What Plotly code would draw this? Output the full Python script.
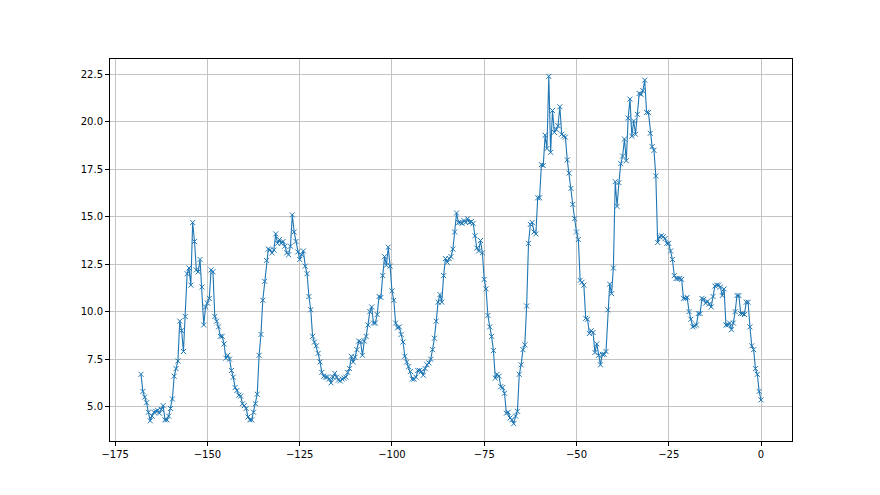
import numpy as np
import plotly.graph_objects as go

# Palette (matplotlib defaults)
BLUE = "#1f77b4"
GRID = "#c4c4c4"

# Valeurs lues sur le graphique, pas de 0.5 h, de -168 à 0
vals_168_147 = [
    6.7, 5.8, 5.5, 5.2, 4.7, 4.25, 4.5, 4.7, 4.75, 4.8,
    4.65, 4.85, 5.05, 4.3, 4.3, 4.5, 4.9, 5.4, 6.6, 7.0,
    7.4, 9.5, 9.0, 7.9, 9.75, 12.0, 12.3, 11.4, 14.7, 13.7,
    12.2, 12.1, 12.75, 11.3, 9.3, 10.25, 10.45, 10.7, 12.2, 12.1,
    9.75, 9.5, 9.2,
]
vals_146_125 = [
    8.7, 8.7, 8.3, 7.55, 7.7, 7.5, 6.9, 6.55, 6.0, 5.85, 5.6, 5.55, 5.15,
    5.05, 4.9, 4.45, 4.3, 4.3, 4.7, 5.15, 5.65, 7.7, 8.8,
    10.6, 11.6, 12.7, 13.3, 13.25, 13.1, 13.25, 14.1, 13.6, 13.8,
    13.6, 13.7, 13.45, 13.1, 13.0, 13.45, 15.1,
    14.2, 13.7, 13.15,
]
vals_125_101 = [
    12.75, 13.0, 13.2, 12.4, 12.0, 10.8, 10.1, 8.7, 8.4, 8.2,
    7.8, 7.35, 6.8, 6.6, 6.55, 6.55, 6.45, 6.25, 6.55, 6.75,
    6.55, 6.4, 6.35, 6.45, 6.5, 6.55, 6.8, 7.0, 7.65, 7.35,
    7.6, 8.0, 8.45, 8.4, 7.7, 8.45, 8.7, 9.3, 10.0, 10.25,
    9.4, 9.4, 9.85, 10.8, 10.75, 11.9, 12.9, 12.45, 13.4,
]
vals_100_78 = [
    12.4, 11.1, 10.6, 9.4, 9.15, 9.2, 8.8, 8.4, 7.65, 7.35,
    7.1, 6.85, 6.45, 6.45, 6.55, 6.9, 6.9, 6.85, 6.65, 7.0,
    7.2, 7.3, 7.5, 8.0, 8.6, 9.5, 10.5, 10.9, 10.5, 11.9,
    12.8, 12.6, 12.8, 12.9, 13.3, 14.2, 15.2, 14.7, 14.7, 14.65,
    14.8, 14.7, 14.9, 14.7, 14.75, 14.65,
]
vals_77_54 = [
    14.0, 13.35, 13.2, 13.75, 13.1, 11.7, 11.2, 9.8, 9.2, 8.7,
    7.95, 6.5, 6.7, 6.6, 6.05, 6.0,
    5.7, 4.65, 4.7, 4.4, 4.3, 4.1, 4.5, 4.75, 6.7, 7.2,
    8.0, 8.25, 10.3, 13.6, 14.6, 14.7, 14.2, 14.1, 16.0, 16.0,
    17.75, 17.7, 19.3, 18.6, 22.4, 18.4, 20.6, 19.45, 19.6, 19.8,
    20.8, 19.35,
]
vals_53_20 = [
    19.25, 19.2, 18.0, 17.3, 16.5, 15.65, 14.9, 14.2, 13.8, 11.65,
    11.55, 11.4, 9.65, 9.6, 8.85, 9.0, 8.9, 7.85, 8.3, 7.7,
    7.2, 7.75, 7.75, 7.9, 10.1, 11.45, 10.95, 12.3, 16.85, 15.55,
    16.8, 17.8, 18.2, 19.1, 17.95, 20.2, 21.2, 19.25, 20.05, 19.35,
    20.4, 21.5, 21.45, 21.65, 22.2, 20.5, 20.5, 19.4, 18.7, 18.5,
    17.15, 13.65, 13.95, 14.0, 13.95, 13.85, 13.6, 13.6, 13.2, 12.75,
    11.9, 11.75, 11.75, 11.75, 11.7, 10.7, 10.7, 10.75,
]
vals_19_0 = [
    10.0, 9.6, 9.2, 9.25, 9.3, 9.9, 9.9, 10.7, 10.65, 10.45,
    10.55, 10.4, 10.25, 10.8, 11.35, 11.4, 11.4, 11.3, 10.85, 11.2,
    9.3, 9.3, 9.4, 9.05, 9.4, 10.0, 10.85, 10.85, 9.9, 9.9,
    9.85, 10.5, 10.5, 9.2, 8.2, 8.0, 7.0, 6.7, 5.8, 5.35,
]

values = (vals_168_147 + vals_146_125 + vals_125_101 + vals_100_78
          + vals_77_54 + vals_53_20 + vals_19_0)
hours = np.linspace(-168, 0, len(values))

X_TICKS = [-175, -150, -125, -100, -75, -50, -25, 0]


def padded(lo, hi, frac=0.05):
    span = hi - lo
    return [lo - frac * span, hi + frac * span]


fig = go.Figure(go.Scatter(
    x=hours, y=values, mode="lines+markers",
    line=dict(color=BLUE, width=1.1),
    marker=dict(symbol="x-thin", size=5, line=dict(color=BLUE, width=1)),
))

axis_style = dict(
    showgrid=True, gridcolor=GRID, gridwidth=0.8, zeroline=False,
    showline=True, linecolor="black", linewidth=1, mirror=True,
    ticks="outside", ticklen=4, tickcolor="black",
)
fig.update_xaxes(range=padded(min(hours), max(hours)), tickvals=X_TICKS, **axis_style)
fig.update_yaxes(range=padded(min(values), max(values)), tick0=5, dtick=2.5,
                 tickformat=".1f", **axis_style)
# la page ajoute 8 px de marge autour du graphique
fig.update_layout(
    width=872, height=487, showlegend=False,
    margin=dict(l=102, r=88, t=51, b=54),
    font=dict(family="DejaVu Sans", size=10, color="black"),
    plot_bgcolor="white", paper_bgcolor="white",
)

fig.write_html("out.html")
